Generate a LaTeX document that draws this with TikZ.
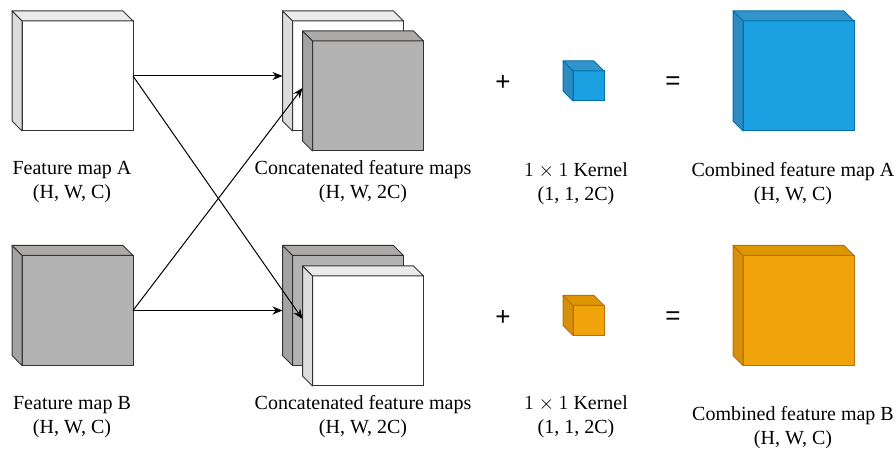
\documentclass[tikz,border=0pt]{standalone}
\usepackage{fontspec}
\setmainfont{Liberation Serif}
\newfontfamily\signfont{Liberation Sans}
\usepackage{amsmath}
\usetikzlibrary{arrows.meta}
\definecolor{wtop}{HTML}{EBEBEB}
\definecolor{wleft}{HTML}{DCDCDC}
\definecolor{gfront}{HTML}{B3B3B3}
\definecolor{gtop}{HTML}{ADAAAA}
\definecolor{gleft}{HTML}{A3A3A3}
\definecolor{bfront}{HTML}{1BA1E2}
\definecolor{btop}{HTML}{3394CB}
\definecolor{bleft}{HTML}{2E8BC0}
\definecolor{bline}{HTML}{006EAF}
\definecolor{ofront}{HTML}{F0A30A}
\definecolor{otop}{HTML}{DC9700}
\definecolor{oleft}{HTML}{D4900D}
\definecolor{oline}{HTML}{BD7000}
\tikzset{%
  tipA/.tip={Stealth[length=5pt,width=4pt]},
  face/.style={draw=black!80, line width=0.5pt, inner sep=0pt, outer sep=0pt,
    minimum width=55.5pt, minimum height=55pt},
  kface/.style={face, minimum width=15.5pt, minimum height=15pt},
  lbl/.style={align=center, font=\fontsize{10}{12}\selectfont},
  sign/.style={font=\signfont\fontsize{13}{15}\selectfont},
  link/.style={line width=0.5pt, -tipA}
}
% top and left faces of a box whose front face is node #1
\newcommand{\cubefaces}[5]{%
  \filldraw[draw=#5, line width=0.5pt, line join=round, fill=#3] (#1.north west) -- ++(-#2,-#2)
    -- ([shift={(-#2,-#2)}]#1.north east) -- (#1.north east) -- cycle;
  \filldraw[draw=#5, line width=0.5pt, line join=round, fill=#4] (#1.north west) -- ++(-#2,-#2)
    -- ([shift={(-#2,-#2)}]#1.south west) -- (#1.south west) -- cycle;
}

\begin{document}
\begin{tikzpicture}[x=0.5pt,y=-0.5pt]
\useasboundingbox (0,0) rectangle (896,454);
% inputs
\node[face, fill=white] (fa) at (77.5,76) {};
\cubefaces{fa}{10}{wtop}{wleft}{black!80}
\node[face, fill=gfront] (fb) at (77.5,310.5) {};
\cubefaces{fb}{10}{gtop}{gleft}{black!80}
% concatenations
\node[face, fill=white] (cat) at (348,76) {};
\cubefaces{cat}{10}{wtop}{wleft}{black!80}
\node[face, fill=gfront] (caf) at (368,96) {};
\cubefaces{caf}{10}{gtop}{gleft}{black!80}
\node[face, fill=gfront] (cbt) at (348,310.5) {};
\cubefaces{cbt}{10}{gtop}{gleft}{black!80}
\node[face, fill=white] (cbf) at (368,331) {};
\cubefaces{cbf}{10}{wtop}{wleft}{black!80}
% kernels
\node[kface, draw=bline, fill=bfront] (ka) at (588.5,86) {};
\cubefaces{ka}{10}{btop}{bleft}{bline}
\node[kface, draw=oline, fill=ofront] (kb) at (588.5,320.5) {};
\cubefaces{kb}{10}{otop}{oleft}{oline}
% outputs
\node[face, draw=bline, fill=bfront] (ma) at (798.5,76) {};
\cubefaces{ma}{10}{btop}{bleft}{bline}
\node[face, draw=oline, fill=ofront] (mb) at (798.5,310.5) {};
\cubefaces{mb}{10}{otop}{oleft}{oline}
% signs
\node[sign] (pa) at (503,83) {+};
\node[sign] (ea) at (673,83) {=};
\node[sign] (pb) at (503,318) {+};
\node[sign] (eb) at (673,318) {=};
% labels
\node[lbl] (la) at (72,182) {Feature map A\\(H, W, C)};
\node[lbl] (lb) at (72,417) {Feature map B\\(H, W, C)};
\node[lbl] (lca) at (363,182) {Concatenated feature maps\\(H, W, 2C)};
\node[lbl] (lcb) at (363,417) {Concatenated feature maps\\(H, W, 2C)};
\node[lbl] (lka) at (576,184) {$1\times1$ Kernel\\(1, 1, 2C)};
\node[lbl] (lkb) at (576,417) {$1\times1$ Kernel\\(1, 1, 2C)};
\node[lbl] (lma) at (793,184) {Combined feature map A\\(H, W, C)};
\node[lbl] (lmb) at (793,428) {Combined feature map B\\(H, W, C)};
% connections
\draw[link] (fa.east) -- ([shift={(-10,0)}]cat.west);
\draw[link] (fa.east) -- ([shift={(-10,-12)}]cbf.west);
\draw[link] (fb.east) -- ([shift={(-10,0)}]cbt.west);
\draw[link] (fb.east) -- ([shift={(-10,-8)}]caf.west);
\end{tikzpicture}
\end{document}
